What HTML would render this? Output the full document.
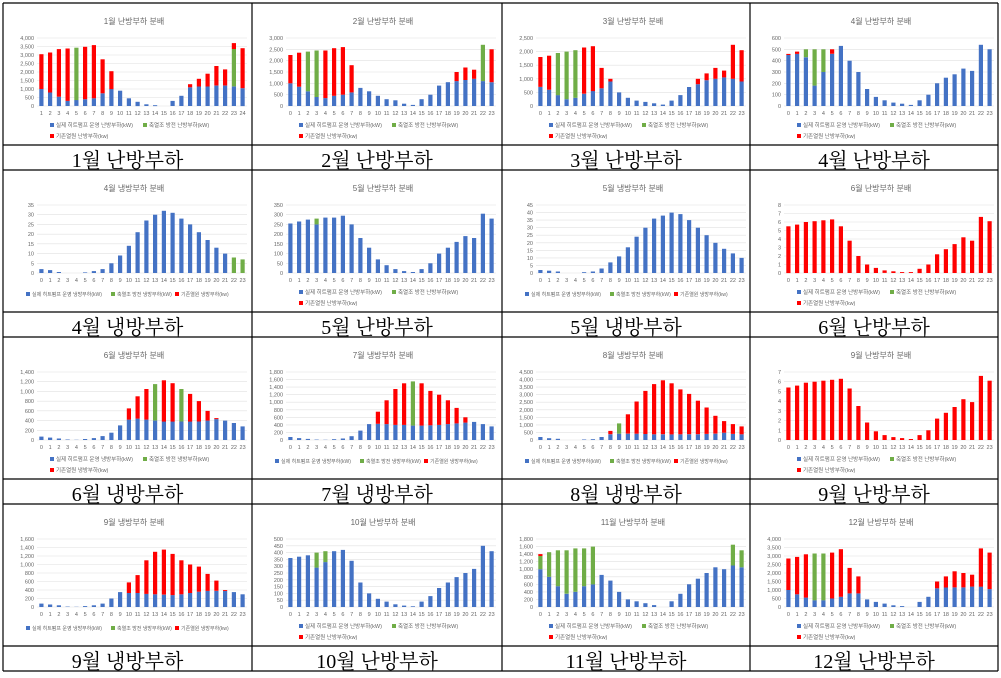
<!DOCTYPE html>
<html><head><meta charset="utf-8">
<style>
body{margin:0;background:#fff;width:1001px;height:673px;overflow:hidden;font-family:"Liberation Sans","Noto Sans CJK KR",sans-serif}
</style></head><body>
<svg id="s" width="1001" height="673" xmlns="http://www.w3.org/2000/svg"></svg>
<script>
var B='#4472C4',G='#70AD47',R='#FF0000';
function mk(bl,tot,gr){
 return bl.map(function(b,i){var t=tot[i]==null?b:tot[i];var g=gr.indexOf(i)>=0;return [b,g?t-b:0,g?0:t-b];});}
var C=[
{t:"1월 난방부하 분배",cap:"1월 난방부하",max:4000,st:500,lab1:1,heat:1,
 d:mk([1000,800,550,300,350,400,450,750,1000,900,450,250,100,50,0,300,600,1100,1150,1150,1200,1200,1150,1050],
 [3050,3150,3350,3380,3430,3480,3580,2750,2050,900,450,250,100,50,0,300,600,1280,1600,1900,2350,2150,3350,3400],[4,22]),ex:{22:[1150,2200,350]}},
{t:"2월 난방부하 분배",cap:"2월 난방부하",max:3000,st:500,heat:1,
 d:mk([1000,850,650,400,350,450,500,600,800,650,450,300,250,100,50,300,500,900,1050,1100,1150,1200,1100,1050],
 [2250,2350,2400,2450,2450,2550,2600,1800,800,650,450,300,250,100,50,300,500,900,1050,1500,1700,1600,2700,2500],[2,3,22])},
{t:"3월 난방부하 분배",cap:"3월 난방부하",max:2500,st:500,heat:1,
 d:mk([700,600,400,250,300,450,550,650,900,500,300,200,150,100,50,200,400,700,800,950,1000,1050,1000,900],
 [1800,1850,1950,2000,2050,2150,2200,1400,1000,500,300,200,150,100,50,200,400,700,1000,1200,1400,1300,2250,2050],[2,3,4])},
{t:"4월 난방부하 분배",cap:"4월 난방부하",max:600,st:100,heat:1,
 d:mk([450,460,430,180,300,460,530,400,300,150,80,50,30,20,10,50,100,200,250,280,330,310,540,500],
 [460,480,500,500,500,500,530,400,300,150,80,50,30,20,10,50,100,200,250,280,330,310,540,500],[2,3,4])},
{t:"4월 냉방부하 분배",cap:"4월 냉방부하",max:35,st:5,
 d:mk([2,1.5,0.5,0,0,0.3,1,2,5,9,14,21,27,30,32,31,28,25,21,17,13,10,0,0],
 [2,1.5,0.5,0,0,0.3,1,2,5,9,14,21,27,30,32,31,28,25,21,17,13,10,8,7],[22,23])},
{t:"5월 난방부하 분배",cap:"5월 난방부하",max:350,st:50,heat:1,
 d:mk([255,265,275,250,285,285,295,250,180,130,70,40,20,10,5,20,50,100,130,160,190,180,305,280],
 [255,265,275,280,285,285,295,250,180,130,70,40,20,10,5,20,50,100,130,160,190,180,305,280],[3])},
{t:"5월 냉방부하 분배",cap:"5월 냉방부하",max:45,st:5,
 d:mk([2,1.5,1,0,0,0.5,1,3,7,11,17,24,30,36,38,40,39,35,30,25,20,16,13,10],[],[])},
{t:"6월 난방부하 분배",cap:"6월 난방부하",max:8,st:1,heat:1,
 d:mk([0,0,0,0,0,0,0,0,0,0,0,0,0,0,0,0,0,0,0,0,0,0,0,0],
 [5.5,5.7,6,6.1,6.2,6.3,5.5,3.8,2,1,0.6,0.3,0.2,0.1,0.1,0.5,1,2.2,2.8,3.4,4.2,3.8,6.6,6.1],[])},
{t:"6월 냉방부하 분배",cap:"6월 냉방부하",max:1400,st:200,two:1,
 d:mk([70,50,30,10,5,20,40,80,150,300,420,440,420,400,380,380,380,380,380,400,430,400,350,280],
 [70,50,30,10,5,20,40,80,150,300,650,900,1050,1150,1230,1170,1050,950,800,600,450,400,350,280],[13,16])},
{t:"7월 냉방부하 분배",cap:"7월 냉방부하",max:1800,st:200,
 d:mk([80,50,30,10,5,20,40,100,250,420,430,420,400,400,380,380,390,400,420,440,460,480,420,360],
 [80,50,30,10,5,20,40,100,250,420,750,1050,1350,1500,1550,1500,1300,1200,1050,850,600,480,420,360],[14])},
{t:"8월 냉방부하 분배",cap:"8월 냉방부하",max:4500,st:500,
 d:mk([200,120,80,0,0,30,50,200,380,420,420,420,400,380,380,370,380,380,380,400,420,480,400,380],
 [200,120,80,0,0,30,50,200,600,1100,1700,2550,3250,3700,3950,3750,3350,3050,2600,2150,1600,1250,1050,900],[9])},
{t:"9월 난방부하 분배",cap:"9월 난방부하",max:7,st:1,heat:1,
 d:mk([0,0,0,0,0,0,0,0,0,0,0,0,0,0,0,0,0,0,0,0,0,0,0,0],
 [5.4,5.6,5.9,6,6.1,6.2,6.3,5.3,3.5,1.8,0.9,0.5,0.3,0.2,0.1,0.5,1,2.2,2.8,3.4,4.2,3.9,6.6,6.1],[])},
{t:"9월 냉방부하 분배",cap:"9월 냉방부하",max:1600,st:200,
 d:mk([80,60,40,10,5,20,40,80,200,350,330,330,310,300,290,280,300,330,360,380,380,380,350,300],
 [80,60,40,10,5,20,40,80,200,350,580,750,1100,1300,1350,1250,1100,1000,950,780,620,400,350,300],[])},
{t:"10월 난방부하 분배",cap:"10월 난방부하",max:500,st:50,heat:1,
 d:mk([360,370,380,290,330,410,420,340,180,100,60,40,20,10,5,40,80,140,180,220,250,280,450,410],
 [360,370,380,400,410,410,420,340,180,100,60,40,20,10,5,40,80,140,180,220,250,280,450,410],[3,4])},
{t:"11월 난방부하 분배",cap:"11월 난방부하",max:1800,st:200,heat:1,
 d:mk([1000,800,550,350,400,550,600,850,700,400,200,150,100,50,0,150,350,600,750,900,1050,1000,1100,1050],
 [1350,1450,1500,1500,1550,1550,1600,850,700,400,200,150,100,50,0,150,350,600,750,900,1050,1000,1650,1500],[0,1,2,3,4,5,6,22,23]),ex:{0:[1000,350,50]}},
{t:"12월 난방부하 분배",cap:"12월 난방부하",max:4000,st:500,heat:1,
 d:mk([1000,750,550,400,400,500,600,800,800,450,300,200,100,50,0,300,600,1100,1150,1150,1150,1200,1200,1050],
 [2850,2950,3100,3150,3150,3200,3400,2300,1800,450,300,200,100,50,0,300,600,1500,1800,2100,2000,1900,3450,3200],[3,4])}
];
var s='';var cx=[3,252,502,750,998],ry=[3,170,337,504,671];
function fmt(v){return v>=1000?(Math.floor(v/1000)+','+String(v%1000).padStart(3,'0')):String(v);}
C.forEach(function(c,k){
 var col=k%4,row=Math.floor(k/4),X=cx[col],Y=ry[row];
 var L=X+34,Rr=X+244,T=Y+35,Bt=Y+103;
 s+='<text x="'+(X+131)+'" y="'+(Y+21)+'" font-size="8" fill="#666" text-anchor="middle">'+c.t+'</text>';
 for(var v=0;v<=c.max+1e-9;v+=c.st){var y=Bt-(v/c.max)*(Bt-T);
  s+='<line x1="'+L+'" x2="'+Rr+'" y1="'+y+'" y2="'+y+'" stroke="#e0e0e0" stroke-width="0.6"/>';
  s+='<text x="'+(L-3)+'" y="'+(y+2)+'" font-size="5.5" fill="#666" text-anchor="end">'+fmt(Math.round(v))+'</text>';}
 var n=24,w=(Rr-L)/n,bw=w*0.48;
 c.d.forEach(function(d,i){if(c.ex&&c.ex[i])d=c.ex[i];var x=L+w*i+(w-bw)/2,base=Bt;
  [[d[0],B],[d[1],G],[d[2],R]].forEach(function(p){if(p[0]>0){var h=p[0]/c.max*(Bt-T);base-=h;
   s+='<rect x="'+x.toFixed(1)+'" y="'+base.toFixed(1)+'" width="'+bw.toFixed(1)+'" height="'+h.toFixed(1)+'" fill="'+p[1]+'"/>';}});
  s+='<text x="'+(x+bw/2).toFixed(1)+'" y="'+(Y+112)+'" font-size="5.5" fill="#666" text-anchor="middle">'+(c.lab1?i+1:i)+'</text>';});
 var kw=c.heat?'난방부하':'냉방부하',ly=Y+124;
 var items=[[B,'실제 히트펌프 운영 '+kw+'(kW)'],[G,'축열조 방전 '+kw+'(kW)'],[R,'기존열원 '+kw+'(kw)']];
 if(c.heat||c.two){
  s+='<rect x="'+(X+47)+'" y="'+(ly-4)+'" width="4" height="4" fill="'+B+'"/><text x="'+(X+53)+'" y="'+ly+'" font-size="5.5" fill="#666">'+items[0][1]+'</text>';
  s+='<rect x="'+(X+140)+'" y="'+(ly-4)+'" width="4" height="4" fill="'+G+'"/><text x="'+(X+146)+'" y="'+ly+'" font-size="5.5" fill="#666">'+items[1][1]+'</text>';
  s+='<rect x="'+(X+47)+'" y="'+(ly+7)+'" width="4" height="4" fill="'+R+'"/><text x="'+(X+53)+'" y="'+(ly+11)+'" font-size="5.5" fill="#666">'+items[2][1]+'</text>';
 } else {
  var xs=[X+23,X+108,X+172];
  items.forEach(function(it,j){s+='<rect x="'+xs[j]+'" y="'+(ly-2)+'" width="4" height="4" fill="'+it[0]+'"/><text x="'+(xs[j]+6)+'" y="'+(ly+2)+'" font-size="5" fill="#666">'+it[1]+'</text>';});
 }
 s+='<text x="'+((X+cx[col+1])/2)+'" y="'+(Y+164)+'" font-size="20" fill="#000" text-anchor="middle" font-family="Liberation Serif,Noto Serif CJK SC,serif">'+c.cap+'</text>';
});
for(var i=0;i<5;i++){s+='<line x1="'+cx[i]+'" x2="'+cx[i]+'" y1="3" y2="671" stroke="#000" stroke-width="1.2"/>';}
for(var r=0;r<4;r++){s+='<line x1="3" x2="998" y1="'+ry[r]+'" y2="'+ry[r]+'" stroke="#000" stroke-width="1.2"/>';s+='<line x1="3" x2="998" y1="'+(ry[r]+142)+'" y2="'+(ry[r]+142)+'" stroke="#000" stroke-width="1.2"/>';}
s+='<line x1="3" x2="998" y1="671" y2="671" stroke="#000" stroke-width="1.2"/>';
document.getElementById('s').innerHTML=s;
</script>
</body></html>
